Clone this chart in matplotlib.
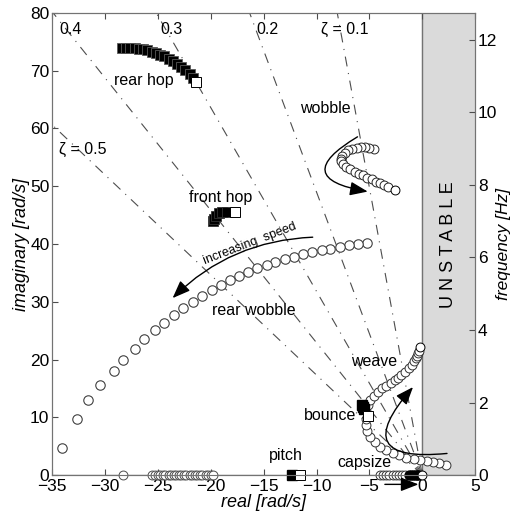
import numpy as np
import matplotlib
matplotlib.use('Agg')
from matplotlib import pyplot as plt
from matplotlib.patches import FancyArrowPatch

plt.rcParams['font.family'] = ['Liberation Sans', 'DejaVu Sans']

# --- data (real [rad/s], imaginary [rad/s]) ---
zeta_values = [0.1, 0.2, 0.3, 0.4, 0.5]

rear_hop_re = [-28.4, -28.0, -27.6, -27.2, -26.8, -26.4, -26.0, -25.6, -25.2, -24.8,
               -24.4, -24.0, -23.6, -23.2, -22.8, -22.4, -22.0, -21.7]
rear_hop_im = [74.0, 74.0, 74.0, 73.9, 73.8, 73.7, 73.5, 73.3, 73.1, 72.8,
               72.5, 72.1, 71.7, 71.2, 70.7, 70.1, 69.4, 68.7]
rear_hop_end = (-21.4, 68.0)

front_hop_re = [-19.8, -19.7, -19.5, -19.2, -18.9, -18.5]
front_hop_im = [43.9, 44.4, 44.9, 45.3, 45.5, 45.6]
front_hop_end = (-17.7, 45.6)

wobble_re = [-4.6, -5.0, -5.4, -5.8, -6.2, -6.6, -7.0, -7.3, -7.6, -7.7, -7.7, -7.5,
             -7.2, -6.8, -6.4, -6.0, -5.6, -5.2, -4.8, -4.4, -4.0, -3.6, -3.2]
wobble_im = [56.5, 56.7, 56.8, 56.8, 56.7, 56.5, 56.2, 55.8, 55.3, 54.8, 54.3, 53.8,
             53.3, 52.9, 52.5, 52.2, 51.9, 51.5, 51.2, 50.8, 50.5, 50.2, 49.8]
wobble_end = (-2.6, 49.3)

rear_wobble_re = [-5.2, -6.1, -6.9, -7.8, -8.7, -9.5, -10.4, -11.3, -12.1, -13.0, -13.9,
                  -14.7, -15.6, -16.5, -17.3, -18.2, -19.0, -19.9, -20.8, -21.7, -22.6,
                  -23.5, -24.4, -25.3, -26.3, -27.2, -28.3, -29.2, -30.5, -31.6, -32.7,
                  -34.1]
rear_wobble_im = [40.2, 40.0, 39.8, 39.5, 39.2, 38.9, 38.6, 38.2, 37.8, 37.4, 36.9,
                  36.4, 35.8, 35.2, 34.5, 33.7, 32.9, 32.0, 31.0, 30.0, 28.9,
                  27.7, 26.4, 25.1, 23.5, 21.8, 20.0, 18.0, 15.6, 13.0, 9.8,
                  4.7]

real_axis_re = [-28.3, -25.6, -25.3, -25.0, -24.8, -24.5, -24.3, -24.0, -23.8, -23.5,
                -23.3, -23.0, -22.8, -22.5, -22.3, -22.0, -21.8, -21.5, -21.3, -21.0,
                -20.8, -20.5, -20.3, -20.0, -19.8]

pitch_re = [-12.3]
pitch_end = (-11.6, 0.0)

bounce_re = [-5.7, -5.6, -5.5]
bounce_im = [12.2, 11.8, 11.5]
bounce_end = (-5.1, 10.3)

weave_re = [2.2, 1.6, 1.0, 0.4, -0.2, -0.8, -1.5, -2.2, -2.8, -3.4, -4.0, -4.5, -4.9,
            -5.2, -5.3, -5.3, -5.1, -4.9, -4.6, -4.2, -3.8, -3.4, -3.0, -2.6, -2.3,
            -2.0, -1.6, -1.3, -1.0, -0.8, -0.6, -0.5, -0.4, -0.3]
weave_im = [1.8, 2.1, 2.3, 2.5, 2.6, 2.8, 3.0, 3.4, 3.8, 4.3, 4.9, 5.7, 6.6,
            7.6, 8.6, 9.8, 12.2, 13.0, 13.7, 14.4, 15.0, 15.5, 16.0, 16.4, 16.8,
            17.3, 17.9, 18.5, 19.1, 19.7, 20.2, 20.7, 21.1, 21.5]
weave_end = (-0.2, 22.2)

capsize_re = [-4.0, -3.7, -3.4, -3.1, -2.8, -2.5, -2.2, -1.9, -1.6]
capsize_dark_re = [-1.3, -1.1, -0.9, -0.7, -0.5, -0.4]
capsize_end = (0.0, 0.0)

# --- figure ---
fig = plt.figure(figsize=(5.12, 5.17), dpi=100)
ax = fig.add_axes([0.102, 0.081, 0.826, 0.894])

ax.axvspan(0, 5, color='#dadada', zorder=0)
ax.axvline(0, color='0.45', lw=1.0, zorder=1)

# constant damping lines
for z in zeta_values:
    xs = np.array([0.0, -60.0])
    ax.plot(xs, -xs * np.sqrt(1 - z ** 2) / z, color='0.3', lw=0.8,
            ls=(0, (9, 6, 1, 6)), zorder=1)

ax.axhline(0, color='0.35', lw=0.9, zorder=1)

ms_c = 6.4
ms_s = 6.6
# rear hop
ax.plot(rear_hop_re, rear_hop_im, 's', ms=ms_s, mfc='black', mec='0.35', mew=0.6, zorder=3)
ax.plot(*rear_hop_end, 's', ms=ms_s, mfc='white', mec='black', mew=0.7, zorder=4)
# front hop
ax.plot(front_hop_re, front_hop_im, 's', ms=ms_s, mfc='black', mec='0.2', mew=0.6, zorder=3)
ax.plot(*front_hop_end, 's', ms=ms_s, mfc='white', mec='black', mew=0.7, zorder=4)
# wobble
ax.plot(wobble_re, wobble_im, 'o', ms=ms_c, mfc='white', mec='0.15', mew=0.7, zorder=3)
ax.plot(*wobble_end, 'o', ms=ms_c, mfc='white', mec='black', mew=0.7, zorder=4)
# rear wobble
ax.plot(rear_wobble_re, rear_wobble_im, 'o', ms=6.8, mfc='white', mec='0.25', mew=0.8, zorder=3)
ax.plot(real_axis_re, np.zeros(len(real_axis_re)), 'o', ms=6.4, mfc='white', mec='0.3',
        mew=0.7, zorder=3, clip_on=False)
# pitch
ax.plot(pitch_re, np.zeros(len(pitch_re)), 's', ms=ms_s, mfc='black', mec='black', zorder=3,
        clip_on=False)
ax.plot(*pitch_end, 's', ms=ms_s, mfc='white', mec='black', mew=0.7, zorder=4, clip_on=False)
# weave
ax.plot(weave_re, weave_im, 'o', ms=ms_c, mfc='white', mec='0.2', mew=0.7, zorder=3)
ax.plot(*weave_end, 'o', ms=ms_c, mfc='white', mec='black', mew=0.7, zorder=5)
# bounce
ax.plot(bounce_re, bounce_im, 's', ms=7.5, mfc='black', mec='black', zorder=4)
ax.plot(*bounce_end, 's', ms=ms_s, mfc='white', mec='black', mew=0.7, zorder=4)
# capsize
ax.plot(capsize_re, np.zeros(len(capsize_re)), 'o', ms=ms_c, mfc='white', mec='0.2', mew=0.7,
        zorder=3, clip_on=False)
ax.plot(capsize_dark_re, np.zeros(len(capsize_dark_re)), 'o', ms=ms_c, mfc='black', mec='black',
        zorder=3, clip_on=False)
ax.plot(*capsize_end, 'o', ms=ms_c, mfc='white', mec='black', mew=0.7, zorder=5, clip_on=False)

# arrows
arr = dict(arrowstyle='-|>,head_length=0.9,head_width=0.35', color='black', lw=1.0,
           mutation_scale=12, zorder=6)
ax.add_patch(FancyArrowPatch((-10.1, 41.2), (-23.8, 30.3), connectionstyle='arc3,rad=0.2', **arr))
ax.add_patch(FancyArrowPatch((-5.9, 58.8), (-4.9, 49.0), connectionstyle='arc3,rad=1.4', **arr))
ax.add_patch(FancyArrowPatch((2.6, 3.8), (-0.7, 15.6), connectionstyle='arc3,rad=-1.3', **arr))
ax.add_patch(FancyArrowPatch((-3.8, -1.6), (-0.1, -1.6), clip_on=False, **arr))

# labels
fs = 11.5
ax.text(-26.3, 68.3, 'rear hop', fontsize=fs, ha='center', va='center')
ax.text(-19.1, 48.1, 'front hop', fontsize=fs, ha='center', va='center')
ax.text(-9.2, 63.5, 'wobble', fontsize=fs, ha='center', va='center')
ax.text(-15.9, 28.5, 'rear wobble', fontsize=fs, ha='center', va='center')
ax.text(-4.6, 19.6, 'weave', fontsize=fs, ha='center', va='center')
ax.text(-8.7, 10.4, 'bounce', fontsize=fs, ha='center', va='center')
ax.text(-12.9, 3.4, 'pitch', fontsize=fs, ha='center', va='center')
ax.text(-5.5, 2.1, 'capsize', fontsize=fs, ha='center', va='center')
ax.text(-16.3, 40.0, 'increasing  speed', fontsize=9, ha='center', va='center', rotation=21)

zfs = 11.5
ax.text(-7.3, 77.2, 'ζ = 0.1', fontsize=zfs, ha='center', va='center')
ax.text(-14.6, 77.2, '0.2', fontsize=zfs, ha='center', va='center')
ax.text(-23.7, 77.2, '0.3', fontsize=zfs, ha='center', va='center')
ax.text(-33.3, 77.2, '0.4', fontsize=zfs, ha='center', va='center')
ax.text(-32.1, 56.4, 'ζ = 0.5', fontsize=zfs, ha='center', va='center')

ax.text(2.45, 39.8, 'U N S T A B L E', fontsize=13, ha='center', va='center', rotation=90)

ax.set_xlim(-35, 5)
ax.set_ylim(0, 80)
ax.set_xticks(range(-35, 6, 5))
ax.set_yticks(range(0, 81, 10))
ax.tick_params(direction='in', labelsize=12.5, top=True, length=4, color='0.3', pad=2)
ax.tick_params(axis='x', pad=3)
ax.set_xlabel('real [rad/s]', fontsize=13, style='italic', labelpad=0)
ax.set_ylabel('imaginary [rad/s]', fontsize=13, style='italic', labelpad=0)
for s in ax.spines.values():
    s.set_color('0.45')

ax2 = ax.twinx()
ax2.set_ylim(0, 80 / (2 * np.pi))
ax2.set_yticks(range(0, 13, 2))
ax2.tick_params(direction='in', labelsize=12.5, length=4, color='0.3', pad=2)
ax2.set_ylabel('frequency [Hz]', fontsize=12.5, style='italic', labelpad=-1)
for s in ax2.spines.values():
    s.set_color('0.45')

fig.savefig('out.png', dpi=100)
